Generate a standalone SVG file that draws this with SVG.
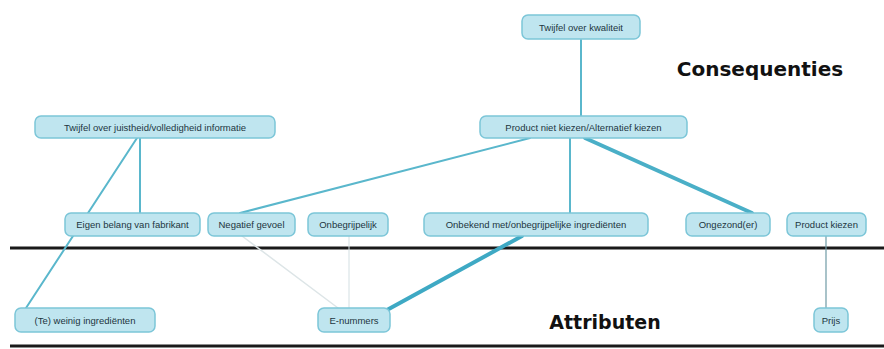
<svg xmlns="http://www.w3.org/2000/svg" width="884" height="349" viewBox="0 0 884 349">
<style>
.node rect{fill:#bfe5ef;stroke:#7cc6d8;stroke-width:1.5}
.node text{font-family:"Liberation Sans",Arial,sans-serif;font-size:9.5px;fill:#1d3540;text-anchor:middle}
.c{fill:none;stroke-linecap:round}
.lbl{font-family:"DejaVu Sans",Verdana,sans-serif;font-weight:bold;fill:#111}
</style>
<rect width="884" height="349" fill="#ffffff"/>
<line x1="10" y1="248" x2="884" y2="248" stroke="#1a1a1a" stroke-width="3"/>
<line x1="10" y1="346" x2="884" y2="346" stroke="#1a1a1a" stroke-width="3"/>
<text class="lbl" x="760" y="76" font-size="20" text-anchor="middle">Consequenties</text>
<text class="lbl" x="605" y="329" font-size="19" text-anchor="middle">Attributen</text>
<g id="connectors">
<line class="c" x1="581" y1="40" x2="581" y2="116" stroke="#5ab7cc" stroke-width="2"/>
<line class="c" x1="530" y1="138" x2="240" y2="213" stroke="#5ab7cc" stroke-width="2"/>
<line class="c" x1="570" y1="138" x2="570" y2="213" stroke="#5ab7cc" stroke-width="2"/>
<line class="c" x1="585" y1="138" x2="752" y2="213" stroke="#4aafc7" stroke-width="4"/>
<line class="c" x1="140" y1="138" x2="140" y2="213" stroke="#5ab7cc" stroke-width="2"/>
<line class="c" x1="137" y1="138" x2="26" y2="308" stroke="#5ab7cc" stroke-width="2"/>
<line class="c" x1="242" y1="236" x2="338" y2="308" stroke="#dde5e7" stroke-width="1.5"/>
<line class="c" x1="349" y1="236" x2="349" y2="308" stroke="#d3dfe2" stroke-width="1"/>
<line class="c" x1="522" y1="236" x2="376" y2="316" stroke="#3ea9c4" stroke-width="4"/>
<line class="c" x1="826" y1="236" x2="826" y2="308" stroke="#6f9aa5" stroke-width="1.2"/>
</g>
<g id="n-twijfel-kwaliteit" class="node"><rect x="522" y="15" width="118" height="24" rx="6"/><text x="581" y="30.5">Twijfel over kwaliteit</text></g>
<g id="n-product-niet-kiezen" class="node"><rect x="480" y="116" width="207" height="22" rx="6"/><text x="583.5" y="130.5">Product niet kiezen/Alternatief kiezen</text></g>
<g id="n-twijfel-info" class="node"><rect x="35" y="116" width="240" height="22" rx="6"/><text x="155" y="130.5">Twijfel over juistheid/volledigheid informatie</text></g>
<g id="n-eigen-belang" class="node"><rect x="65" y="213" width="135" height="23" rx="6"/><text x="132.5" y="228">Eigen belang van fabrikant</text></g>
<g id="n-negatief" class="node"><rect x="208" y="213" width="87" height="23" rx="6"/><text x="251.5" y="228">Negatief gevoel</text></g>
<g id="n-onbegrijpelijk" class="node"><rect x="308" y="213" width="80" height="23" rx="6"/><text x="348" y="228">Onbegrijpelijk</text></g>
<g id="n-onbekend" class="node"><rect x="424" y="213" width="224" height="23" rx="6"/><text x="536" y="228">Onbekend met/onbegrijpelijke ingrediënten</text></g>
<g id="n-ongezond" class="node"><rect x="686" y="213" width="84" height="23" rx="6"/><text x="728" y="228">Ongezond(er)</text></g>
<g id="n-product-kiezen" class="node"><rect x="787" y="213" width="79" height="23" rx="6"/><text x="826.5" y="228">Product kiezen</text></g>
<g id="n-weinig" class="node"><rect x="15" y="308" width="140" height="24" rx="6"/><text x="85" y="323.5">(Te) weinig ingrediënten</text></g>
<g id="n-enummers" class="node"><rect x="318" y="308" width="72" height="24" rx="6"/><text x="354" y="323.5">E-nummers</text></g>
<g id="n-prijs" class="node"><rect x="814" y="308" width="34" height="24" rx="6"/><text x="831" y="323.5">Prijs</text></g>
</svg>
